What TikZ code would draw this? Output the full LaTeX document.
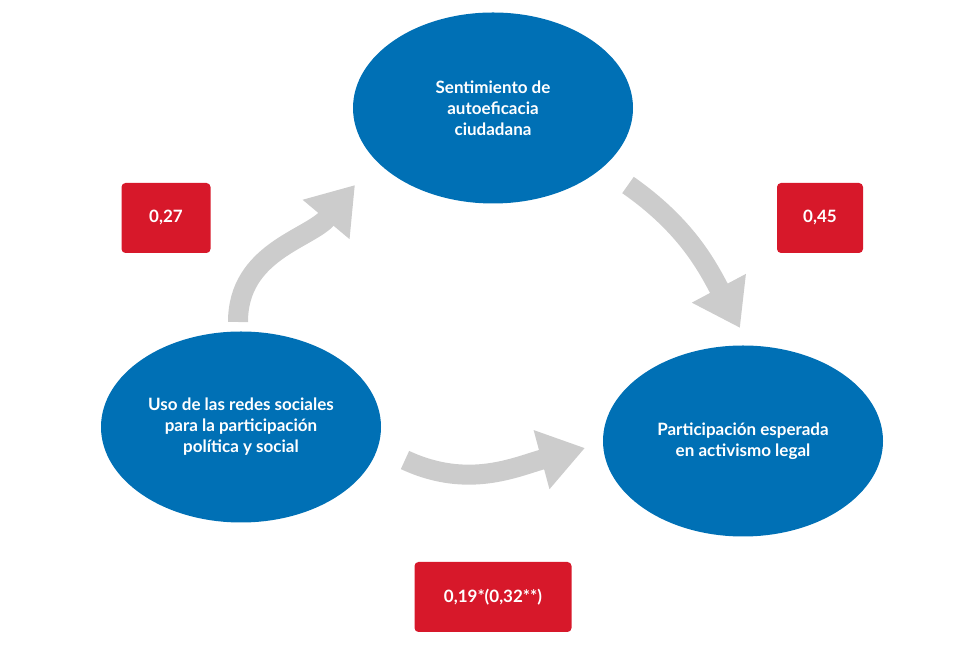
\documentclass[tikz,border=0pt]{standalone}
\usepackage{fontspec}
\setmainfont{Lato}
\usetikzlibrary{arrows.meta,shapes.geometric}

\begin{document}
\begin{tikzpicture}[x=1pt, y=1pt, >=Stealth,
   factor/.style={ellipse, fill=blue!60!cyan!70!black, draw=none,
      minimum width=280pt, minimum height=191pt, text=white,
      font=\bfseries\fontsize{17}{21}\selectfont, align=center},
   coef/.style={rectangle, rounded corners=4pt, fill=red!85!black, text=white,
      font=\bfseries\fontsize{17}{21}\selectfont, minimum height=70pt},
   flow/.style={draw=black!20, line width=20pt,
      -{Triangle[length=45pt,width=58pt]}}]
   \definecolor{azul}{HTML}{0070B5}
   \definecolor{rojo}{HTML}{D7182A}
   \useasboundingbox (0,0) rectangle (956,650);
   % factores
   \node (auto) at (493,542) [factor, fill=azul] {Sentimiento de\\autoeficacia\\ciudadana};
   \node (uso) at (241,223) [factor, fill=azul] {Uso de las redes sociales\\para la participación\\política y social};
   \node (part) at (743,209) [factor, fill=azul] {Participación esperada\\en activismo legal};
   % coeficientes
   \node (c1) at (166,432) [coef, fill=rojo, minimum width=89pt] {0,27};
   \node (c2) at (820,432) [coef, fill=rojo, minimum width=86pt] {0,45};
   \node (c3) at (493,53) [coef, fill=rojo, minimum width=157pt] {0,19*(0,32**)};
   % flechas
   \coordinate (s1) at (238,328); \coordinate (t1) at (355,465);
   \coordinate (s2) at (628,465); \coordinate (t2) at (740,322);
   \coordinate (s3) at (405,190); \coordinate (t3) at (585,202);
   \draw[flow] (s1) to[out=90, in=230] (t1);
   \draw[flow] (s2) to[out=-35, in=118] (t2);
   \draw[flow] (s3) to[out=-25, in=195] (t3);
\end{tikzpicture}
\end{document}
